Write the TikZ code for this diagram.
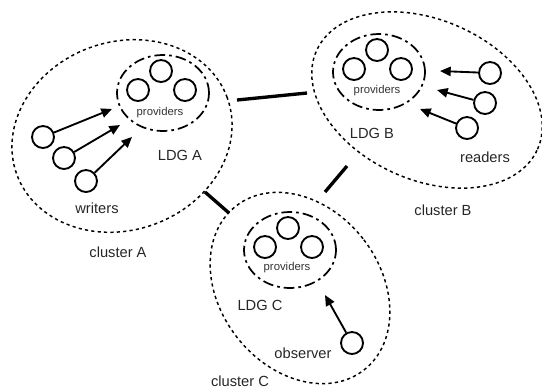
\documentclass[tikz,border=0pt]{standalone}
\usepackage{fontspec}
\setmainfont{Liberation Sans}
\usepackage{tikz}
\usetikzlibrary{arrows.meta,%
                shapes}

\tikzset{
  cluster/.style={draw,ellipse,inner sep=0pt,line width=1.1pt,dash pattern=on 2.4pt off 2.4pt},
  ldg/.style={draw,ellipse,inner sep=0pt,minimum width=69pt,minimum height=57pt,line width=1.3pt,dash pattern=on 8pt off 3pt on 2pt off 3pt},
  proc/.style={draw,circle,inner sep=0pt,minimum size=16.5pt,line width=1.4pt},
  lbl/.style={font=\fontsize{11}{13}\selectfont,text=black!85},
  plbl/.style={font=\fontsize{8.5}{10}\selectfont,text=black!80},
  link/.style={line width=2.5pt},
  req/.style={-{Triangle[length=8pt,width=7pt]},line width=1.4pt}
}

\begin{document}
\begin{tikzpicture}[x=0.75pt,y=-0.75pt]
\useasboundingbox (0,0) rectangle (542,390);
\node[cluster,rotate=20,minimum width=168pt,minimum height=141pt] (clA) at (122,136) {};
\node[cluster,rotate=-24,minimum width=181.5pt,minimum height=120pt] (clB) at (427,100) {};
\node[cluster,rotate=38,minimum width=120pt,minimum height=156pt] (clC) at (300,288) {};

\node[ldg] (ldgA) at (163,93) {};
\node[ldg] (ldgB) at (379,72) {};
\node[ldg] (ldgC) at (290,250) {};

\node[proc] (pA1) at (138,90) {};
\node[proc] (pA2) at (161,71) {};
\node[proc] (pA3) at (185,90) {};
\node[proc] (pB1) at (354,69) {};
\node[proc] (pB2) at (377,50) {};
\node[proc] (pB3) at (401,69) {};
\node[proc] (pC1) at (265,247) {};
\node[proc] (pC2) at (288,228) {};
\node[proc] (pC3) at (312,247) {};

\node[plbl] (provA) at (160,113) {providers};
\node[plbl] (provB) at (377,91) {providers};
\node[plbl] (provC) at (287,268) {providers};

\node[proc] (w1) at (43,137) {};
\node[proc] (w2) at (64,158) {};
\node[proc] (w3) at (86,181) {};
\node[proc] (r1) at (490,73) {};
\node[proc] (r2) at (485,103) {};
\node[proc] (r3) at (467,128) {};
\node[proc] (obs) at (352,343) {};

\coordinate (tA1) at (112,109);
\coordinate (tA2) at (120,125);
\coordinate (tA3) at (132,137);
\coordinate (tB1) at (440,71);
\coordinate (tB2) at (437,90);
\coordinate (tB3) at (420,109);
\coordinate (tC1) at (325,295);

\draw[req] (w1) -- (tA1);
\draw[req] (w2) -- (tA2);
\draw[req] (w3) -- (tA3);
\draw[req] (r1) -- (tB1);
\draw[req] (r2) -- (tB2);
\draw[req] (r3) -- (tB3);
\draw[req] (obs) -- (tC1);

\coordinate (abA) at (237,100);
\coordinate (abB) at (307,93);
\coordinate (acA) at (205,192);
\coordinate (acC) at (229,213);
\coordinate (bcB) at (347,166);
\coordinate (bcC) at (325,192);
\draw[link] (abA) -- (abB);
\draw[link] (acA) -- (acC);
\draw[link] (bcB) -- (bcC);

\node[lbl] (wrt) at (97,208) {writers};
\node[lbl] (ldgAl) at (180,155) {LDG A};
\node[lbl] (clAl) at (118,252) {cluster A};
\node[lbl] (ldgBl) at (372,133) {LDG B};
\node[lbl] (rdr) at (485,157) {readers};
\node[lbl] (clBl) at (443,210) {cluster B};
\node[lbl] (ldgCl) at (260,305) {LDG C};
\node[lbl] (obsl) at (303,353) {observer};
\node[lbl] (clCl) at (240,381) {cluster C};
\end{tikzpicture}
\end{document}
